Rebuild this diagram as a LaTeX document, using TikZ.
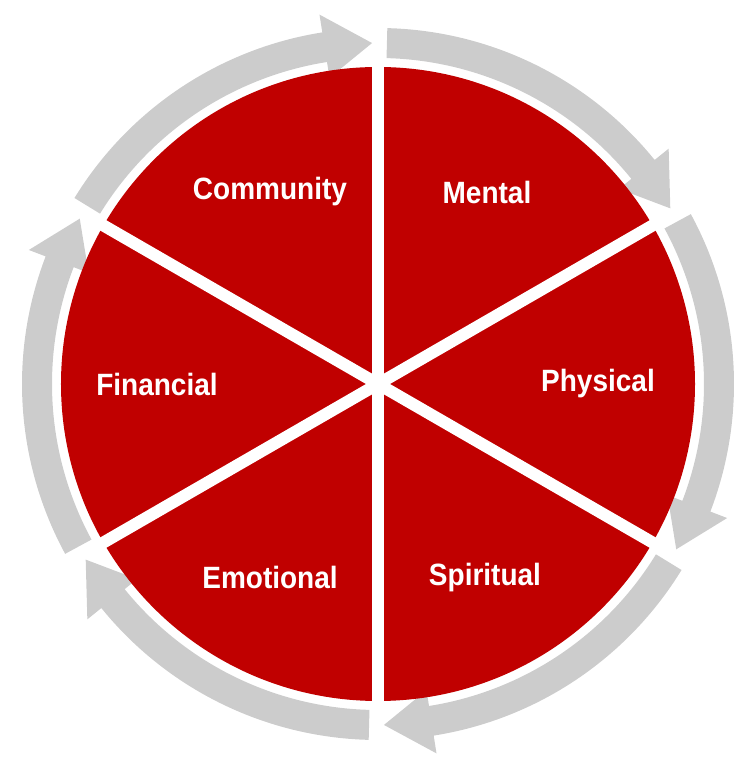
\documentclass[tikz,border=0pt]{standalone}
\usepackage{fontspec}
\setmainfont{Liberation Sans}
\definecolor{wheelred}{RGB}{192,0,0}
\definecolor{ringgray}{RGB}{204,204,204}
\tikzset{
  ring/.style={fill=ringgray},
  gap/.style={white,line width=12pt},
  area/.style={text=white,font=\bfseries\fontsize{28}{28}\selectfont,yscale=1.1},
}
\begin{document}
\begin{tikzpicture}[x=1pt,y=1pt]
  \useasboundingbox (-378,-391) rectangle (369,384);
  % ring arrows, clockwise
  \foreach \b in {90,30,-30,-90,-150,-210}{
    \pgfmathsetmacro{\s}{\b-1.5}
    \pgfmathsetmacro{\hb}{\b-51}
    \pgfmathsetmacro{\t}{\b-59}
    \fill[ring] (\s:326) arc[start angle=\s,end angle=\hb,radius=326]
      -- (\hb:310) -- (\t:341) -- (\hb:374) -- (\hb:356)
      arc[start angle=\hb,end angle=\s,radius=356] -- cycle;
  }
  % wheel
  \node[circle,fill=wheelred,minimum size=634pt,inner sep=0pt] (wheel) at (0,0) {};
  \coordinate (c) at (0,0);
  \foreach \a in {90,30,-30,-90,-150,150}
    \draw[gap] (c) -- (\a:330);
  % labels
  \node[area] (community) at (-108,192) {Community};
  \node[area] (mental) at (109,192) {Mental};
  \node[area] (physical) at (220,0) {Physical};
  \node[area] (spiritual) at (107,-194) {Spiritual};
  \node[area] (emotional) at (-108,-193) {Emotional};
  \node[area] (financial) at (-221,0) {Financial};
\end{tikzpicture}
\end{document}
